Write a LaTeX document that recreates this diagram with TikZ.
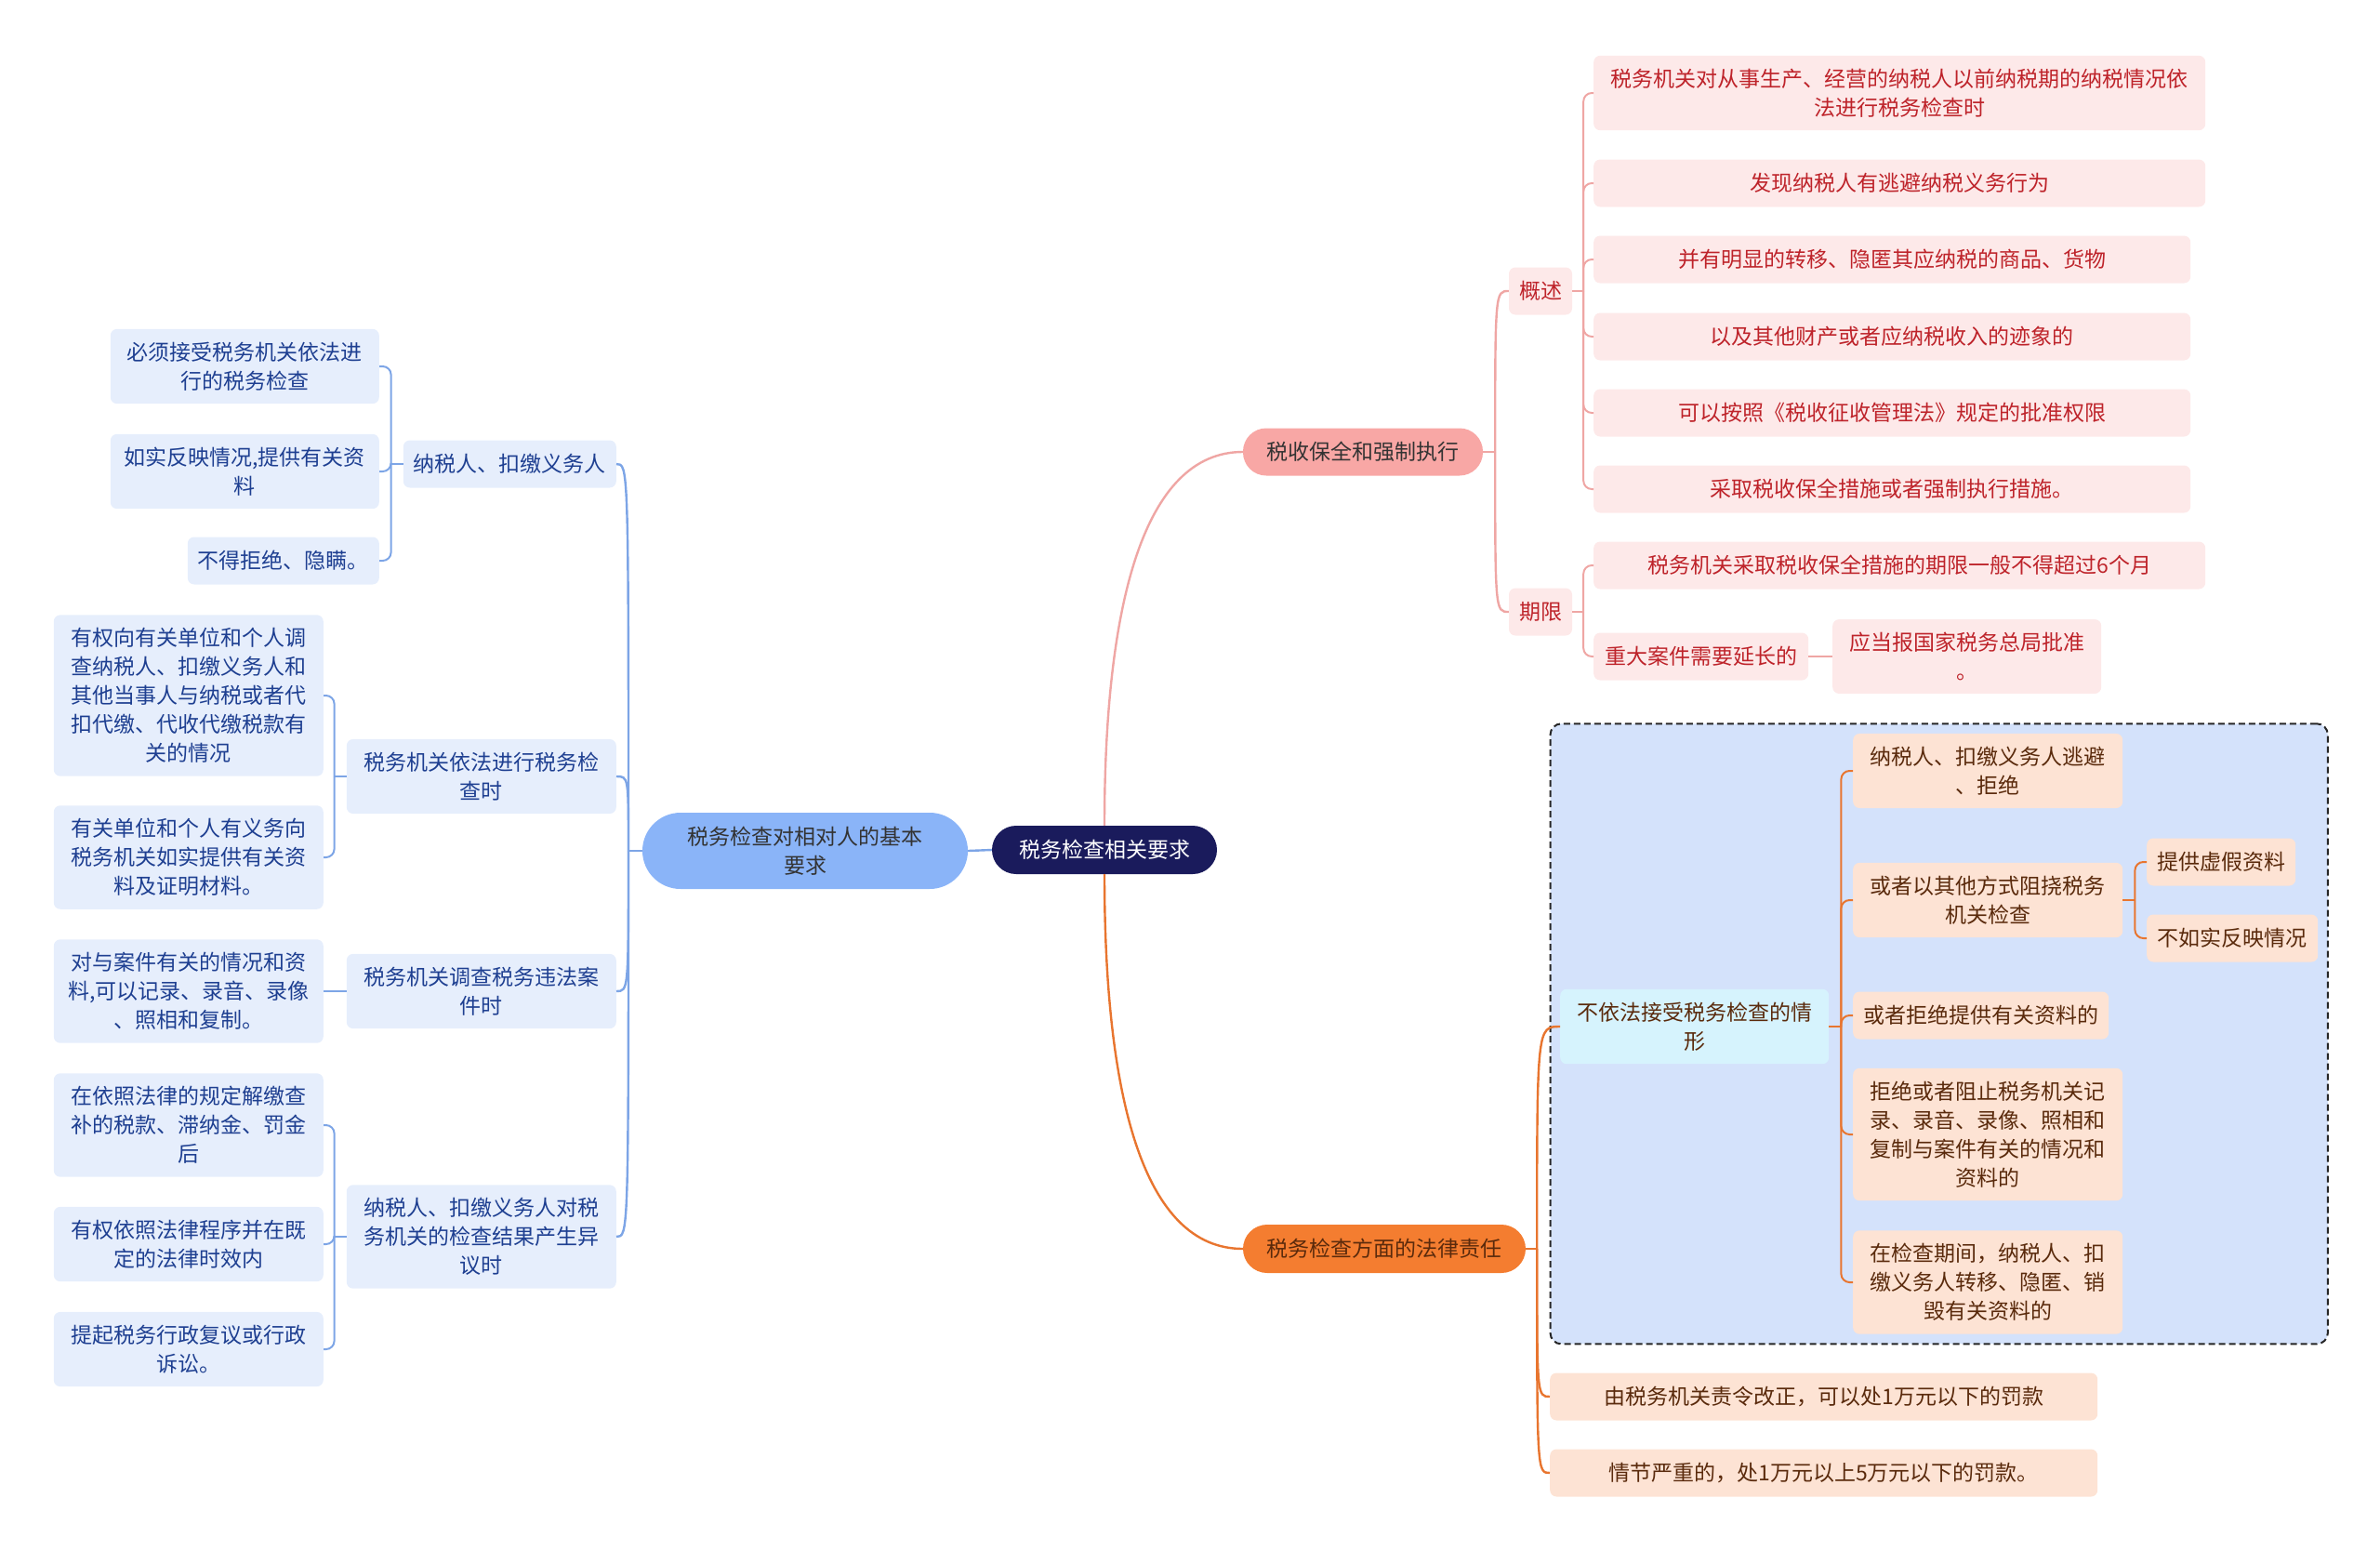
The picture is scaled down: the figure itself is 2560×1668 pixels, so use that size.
\documentclass[tikz,border=0pt]{standalone}
\usepackage{fontspec}
\setmainfont{Noto Sans CJK SC}
\usetikzlibrary{positioning, fit, backgrounds}

\definecolor{rootc}{HTML}{1A1B5C}
\definecolor{basicc}{HTML}{8AB4F8}
\definecolor{bluebg}{HTML}{E6EEFC}
\definecolor{bluetxt}{HTML}{1E3F91}
\definecolor{blueln}{HTML}{7DA5E6}
\definecolor{pinkmain}{HTML}{F8A7A5}
\definecolor{pinkbg}{HTML}{FDE9E9}
\definecolor{pinktxt}{HTML}{BE232A}
\definecolor{pinkln}{HTML}{EFA6A4}
\definecolor{orangemain}{HTML}{F47D30}
\definecolor{peachbg}{HTML}{FDE3D4}
\definecolor{browntxt}{HTML}{5A2A0C}
\definecolor{orangeln}{HTML}{E8752F}
\definecolor{framebg}{HTML}{D4E2FB}
\definecolor{condbg}{HTML}{D6F3FD}
\definecolor{darktxt}{HTML}{333333}

\begin{document}
\begin{tikzpicture}[
    x=1pt, y=-1pt,
    every node/.style={font=\fontsize{23}{31}\selectfont, align=center, inner xsep=10pt, inner ysep=14pt},
    root/.style={fill=rootc, text=white, rounded corners=26pt, minimum width=242pt, minimum height=52pt},
    topicL/.style={fill=basicc, text=darktxt, rounded corners=41pt, minimum width=350pt, minimum height=82pt},
    itemL/.style={fill=bluebg, text=bluetxt, rounded corners=7pt, minimum height=51pt},
    topicP/.style={fill=pinkmain, text=darktxt, rounded corners=25pt, minimum width=258pt, minimum height=51pt},
    itemP/.style={fill=pinkbg, text=pinktxt, rounded corners=7pt, minimum height=51pt},
    topicO/.style={fill=orangemain, text=browntxt, rounded corners=26pt, minimum width=304pt, minimum height=52pt},
    itemO/.style={fill=peachbg, text=browntxt, rounded corners=7pt, minimum height=51pt},
    condbox/.style={fill=condbg, text=browntxt, rounded corners=7pt, minimum height=51pt},
    frame/.style={draw=black!85, dash pattern=on 7pt off 4pt, line width=2pt, fill=framebg, rounded corners=12pt, inner sep=10.5pt},
    lnL/.style={draw=blueln, line width=2.4pt},
    lnP/.style={draw=pinkln, line width=2.4pt},
    lnO/.style={draw=orangeln, line width=2.4pt},
    brk/.style={rounded corners=9pt}
]
\useasboundingbox (0,0) rectangle (2560,1668);

% -------------------------
% Root
% -------------------------
\node[root] (root) at (1188,914) {税务检查相关要求};

% -------------------------
% Left branch
% -------------------------
\node[topicL] (basic) at (866,915) {税务检查对相对人的基本\\要求};

\node[itemL, anchor=east, minimum width=229pt] (taxpayer) at (663,499) {纳税人、扣缴义务人};
\node[itemL, anchor=east, minimum width=290pt] (inspect) at (663,835) {税务机关依法进行税务检\\查时};
\node[itemL, anchor=east, minimum width=290pt] (investigate) at (663,1066) {税务机关调查税务违法案\\件时};
\node[itemL, anchor=east, minimum width=290pt] (objection) at (663,1330) {纳税人、扣缴义务人对税\\务机关的检查结果产生异\\议时};

\node[itemL, anchor=east, minimum width=289pt] (accept) at (408,394) {必须接受税务机关依法进\\行的税务检查};
\node[itemL, anchor=east, minimum width=289pt] (honest) at (408,507) {如实反映情况,提供有关资\\料};
\node[itemL, anchor=east, minimum width=206pt] (norefuse) at (408,603) {不得拒绝、隐瞒。};
\node[itemL, anchor=east, minimum width=290pt] (survey) at (348,748) {有权向有关单位和个人调\\查纳税人、扣缴义务人和\\其他当事人与纳税或者代\\扣代缴、代收代缴税款有\\关的情况};
\node[itemL, anchor=east, minimum width=290pt] (provide) at (348,922) {有关单位和个人有义务向\\税务机关如实提供有关资\\料及证明材料。};
\node[itemL, anchor=east, minimum width=290pt] (record) at (348,1066) {对与案件有关的情况和资\\料,可以记录、录音、录像\\、照相和复制。};
\node[itemL, anchor=east, minimum width=290pt] (pay) at (348,1210) {在依照法律的规定解缴查\\补的税款、滞纳金、罚金\\后};
\node[itemL, anchor=east, minimum width=290pt] (lawful) at (348,1338) {有权依照法律程序并在既\\定的法律时效内};
\node[itemL, anchor=east, minimum width=290pt] (appeal) at (348,1451) {提起税务行政复议或行政\\诉讼。};

% -------------------------
% Right branch: preservation
% -------------------------
\node[topicP] (preserve) at (1466,486) {税收保全和强制执行};
\node[itemP, minimum width=68pt] (overview) at (1657,313) {概述};
\node[itemP, minimum width=68pt] (term) at (1657,658) {期限};

\node[itemP, anchor=west, minimum width=658pt] (p1) at (1714,100) {税务机关对从事生产、经营的纳税人以前纳税期的纳税情况依\\法进行税务检查时};
\node[itemP, anchor=west, minimum width=658pt] (p2) at (1714,197) {发现纳税人有逃避纳税义务行为};
\node[itemP, anchor=west, minimum width=642pt] (p3) at (1714,279) {并有明显的转移、隐匿其应纳税的商品、货物};
\node[itemP, anchor=west, minimum width=642pt] (p4) at (1714,362) {以及其他财产或者应纳税收入的迹象的};
\node[itemP, anchor=west, minimum width=642pt] (p5) at (1714,444) {可以按照《税收征收管理法》规定的批准权限};
\node[itemP, anchor=west, minimum width=642pt] (p6) at (1714,526) {采取税收保全措施或者强制执行措施。};
\node[itemP, anchor=west, minimum width=658pt] (p7) at (1714,608) {税务机关采取税收保全措施的期限一般不得超过6个月};
\node[itemP, anchor=west, minimum width=231pt] (p8) at (1714,706) {重大案件需要延长的};
\node[itemP, anchor=west, minimum width=289pt] (p9) at (1971,706) {应当报国家税务总局批准\\。};

% -------------------------
% Right branch: liability
% -------------------------
\node[topicO] (liability) at (1489,1343) {税务检查方面的法律责任};

\node[condbox, anchor=west, minimum width=289pt] (cond) at (1678,1104) {不依法接受税务检查的情\\形};
\node[itemO, anchor=west, minimum width=290pt] (evade) at (1993,829) {纳税人、扣缴义务人逃避\\、拒绝};
\node[itemO, anchor=west, minimum width=290pt] (obstruct) at (1993,968) {或者以其他方式阻挠税务\\机关检查};
\node[itemO, anchor=west, minimum width=160pt] (fake) at (2309,927) {提供虚假资料};
\node[itemO, anchor=west, minimum width=184pt] (misreport) at (2309,1009) {不如实反映情况};
\node[itemO, anchor=west, minimum width=275pt] (refuse) at (1993,1092) {或者拒绝提供有关资料的};
\node[itemO, anchor=west, minimum width=290pt] (block) at (1993,1220) {拒绝或者阻止税务机关记\\录、录音、录像、照相和\\复制与案件有关的情况和\\资料的};
\node[itemO, anchor=west, minimum width=290pt] (conceal) at (1993,1379) {在检查期间，纳税人、扣\\缴义务人转移、隐匿、销\\毁有关资料的};

\node[itemO, anchor=west, minimum width=589pt] (correct) at (1667,1502) {由税务机关责令改正，可以处1万元以下的罚款};
\node[itemO, anchor=west, minimum width=589pt] (serious) at (1667,1584) {情节严重的，处1万元以上5万元以下的罚款。};

\begin{scope}[on background layer]
    \node[frame, fit=(cond) (evade) (conceal) (misreport)] (box) {};
\end{scope}

% -------------------------
% Connectors
% -------------------------
\draw[lnL] (root.west) -- (basic.east);
\draw[lnP] (root.north) .. controls +(0,-237) and +(-107,0) .. (preserve.west);
\draw[lnO] (root.south) .. controls +(0,240) and +(-107,0) .. (liability.west);

% left
\coordinate (jB) at (676,915);
\draw[lnL] (basic.west) -- (jB);
\foreach \n in {taxpayer, inspect, investigate, objection}
    \draw[lnL] (jB) .. controls (jB |- \n.east) .. (\n.east);

\draw[lnL, line width=2pt] (taxpayer.west) -- ++(-13,0) coordinate (jT);
\foreach \n in {accept, honest, norefuse}
    \draw[lnL, line width=2pt, brk] (jT) |- (\n.east);
\draw[lnL, line width=2pt] (inspect.west) -- ++(-13,0) coordinate (jI);
\foreach \n in {survey, provide}
    \draw[lnL, line width=2pt, brk] (jI) |- (\n.east);
\draw[lnL, line width=2pt] (investigate.west) -- (record.east);
\draw[lnL, line width=2pt] (objection.west) -- ++(-13,0) coordinate (jJ);
\foreach \n in {pay, lawful, appeal}
    \draw[lnL, line width=2pt, brk] (jJ) |- (\n.east);

% preservation
\draw[lnP] (preserve.east) -- ++(13,0) coordinate (jP);
\foreach \n in {overview, term}
    \draw[lnP] (jP) .. controls (jP |- \n.west) .. (\n.west);
\draw[lnP, line width=2pt] (overview.east) -- ++(12,0) coordinate (jV);
\foreach \n in {p1, p2, p3, p4, p5, p6}
    \draw[lnP, line width=2pt, brk] (jV) |- (\n.west);
\draw[lnP, line width=2pt] (term.east) -- ++(12,0) coordinate (jM);
\foreach \n in {p7, p8}
    \draw[lnP, line width=2pt, brk] (jM) |- (\n.west);
\draw[lnP, line width=2pt] (p8.east) -- (p9.west);

% liability
\draw[lnO] (liability.east) -- ++(12,0) coordinate (jL);
\foreach \n in {cond, correct, serious}
    \draw[lnO] (jL) .. controls (jL |- \n.west) .. (\n.west);
\draw[lnO, line width=2pt] (cond.east) -- ++(13,0) coordinate (jC);
\foreach \n in {evade, obstruct, refuse, block, conceal}
    \draw[lnO, line width=2pt, brk] (jC) |- (\n.west);
\draw[lnO, line width=2pt] (obstruct.east) -- ++(13,0) coordinate (jK);
\foreach \n in {fake, misreport}
    \draw[lnO, line width=2pt, brk] (jK) |- (\n.west);

\end{tikzpicture}
\end{document}
